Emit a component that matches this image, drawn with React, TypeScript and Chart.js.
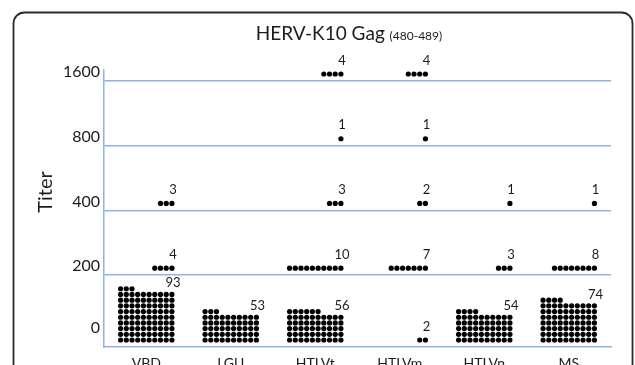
import React, { useEffect, useRef } from 'react';
import { Chart, registerables } from 'chart.js';

Chart.register(...registerables);

// ---- data ----
const categories = ['VBD', 'LGU', 'HTLVt', 'HTLVm', 'HTLVn', 'MS'];
const titerLabels = ['0', '200', '400', '800', '1600'];
const counts0 = [93, 53, 56, 2, 54, 74];
const counts200 = [4, 0, 10, 7, 3, 8];
const counts400 = [3, 0, 3, 2, 1, 1];
const counts800 = [0, 0, 1, 1, 0, 0];
const counts1600 = [0, 0, 4, 4, 0, 0];
const bands = [counts0, counts200, counts400, counts800, counts1600];

// ---- layout constants ----
const BLUE = '#8fb4e3';
const TEXT = '#1c1c1c';
const FONT = 'Lato, "Liberation Sans", sans-serif';
const Y_MIN = -0.11;
const Y_MAX = 4.17;
const TICK_VALUES = [0.05, 1, 2, 3, 4];
const COLS = 10;
const X_PITCH = 0.0675;
const Y_PITCH = 0.088;
const ROW_LIFT = 0.108;

function bandBase(b: number) {
  return (b === 0 ? Y_MIN : b) + ROW_LIFT;
}

function dotsFor(b: number, i: number, n: number) {
  const pts: { x: number; y: number }[] = [];
  const cx = i + 0.5;
  const base = bandBase(b);
  if (n <= COLS) {
    for (let k = 0; k < n; k++) {
      const col = COLS - n + k;
      pts.push({ x: cx + (col - 4.5) * X_PITCH, y: base });
    }
  } else {
    for (let k = 0; k < n; k++) {
      const row = Math.floor(k / COLS);
      const col = k % COLS;
      pts.push({ x: cx + (col - 4.5) * X_PITCH, y: base + row * Y_PITCH });
    }
  }
  return pts;
}

const decorPlugin = {
  id: 'decor',
  beforeDraw(chart: any) {
    const ctx = chart.ctx;
    ctx.save();
    ctx.strokeStyle = '#2a2a2a';
    ctx.lineWidth = 1.8;
    ctx.beginPath();
    (ctx as any).roundRect(13.5, 12.5, 619, 420, 11);
    ctx.stroke();
    ctx.restore();
  },
  afterDraw(chart: any) {
    const ctx = chart.ctx;
    const xs = chart.scales.x;
    const ys = chart.scales.y;
    ctx.save();
    ctx.fillStyle = TEXT;
    // title
    const main = 'HERV-K10 Gag ';
    const sub = '(480-489)';
    ctx.font = `19px ${FONT}`;
    const w1 = ctx.measureText(main).width;
    ctx.font = `12px ${FONT}`;
    const w2 = ctx.measureText(sub).width;
    const start = 349 - (w1 + w2) / 2;
    ctx.textBaseline = 'alphabetic';
    ctx.textAlign = 'left';
    ctx.font = `19px ${FONT}`;
    ctx.fillText(main, start, 40);
    ctx.font = `12px ${FONT}`;
    ctx.fillText(sub, start + w1, 40);
    // y title
    ctx.save();
    ctx.translate(46, 192);
    ctx.rotate(-Math.PI / 2);
    ctx.font = `20px ${FONT}`;
    ctx.textAlign = 'center';
    ctx.textBaseline = 'middle';
    ctx.fillText('Titer', 0, 0);
    ctx.restore();
    // count labels
    ctx.font = `13px ${FONT}`;
    ctx.textAlign = 'center';
    ctx.textBaseline = 'middle';
    bands.forEach((arr, b) => {
      arr.forEach((n, i) => {
        if (!n) return;
        const rows = Math.ceil(n / COLS);
        const ly = bandBase(b) + (rows === 1 ? 2.4 : rows) * Y_PITCH;
        const lx = i + 0.5 + 4.5 * X_PITCH;
        ctx.fillText(String(n), xs.getPixelForValue(lx) + 1, ys.getPixelForValue(ly));
      });
    });
    ctx.restore();
  },
};

export default function App() {
  const ref = useRef<HTMLCanvasElement>(null);
  useEffect(() => {
    if (!ref.current) return;
    const points: { x: number; y: number }[] = [];
    bands.forEach((arr, b) => arr.forEach((n, i) => points.push(...dotsFor(b, i, n))));
    const chart = new Chart(ref.current, {
      type: 'scatter',
      data: {
        datasets: [
          {
            data: points,
            pointRadius: 2.6,
            pointHoverRadius: 2.6,
            pointBackgroundColor: '#000',
            pointBorderWidth: 0,
          },
        ],
      },
      options: {
        responsive: false,
        animation: false,
        events: [],
        layout: { padding: { top: 70, right: 24, left: 0, bottom: 0 } },
        plugins: { legend: { display: false }, tooltip: { enabled: false }, title: { display: false } },
        scales: {
          x: {
            type: 'linear',
            min: 0,
            max: 6,
            afterBuildTicks: (s: any) => {
              s.ticks = categories.map((_, i) => ({ value: i + 0.5 }));
            },
            afterFit: (s: any) => {
              s.height = 18;
            },
            grid: { display: false, drawTicks: false },
            border: { display: true, color: BLUE, width: 1.5 },
            ticks: {
              callback: (_v: any, idx: number) => categories[idx],
              autoSkip: false,
              maxRotation: 0,
              padding: 8,
              color: TEXT,
              font: { family: FONT, size: 14 },
            },
          },
          y: {
            type: 'linear',
            min: Y_MIN,
            max: Y_MAX,
            afterBuildTicks: (s: any) => {
              s.ticks = TICK_VALUES.map((v) => ({ value: v }));
            },
            afterFit: (s: any) => {
              s.width = 104;
            },
            grid: {
              color: (c: any) => (c.index === 0 ? 'rgba(0,0,0,0)' : BLUE),
              lineWidth: 1.5,
              drawTicks: false,
            },
            border: { display: true, color: BLUE, width: 1.5 },
            ticks: {
              callback: (_v: any, idx: number) => titerLabels[idx],
              padding: 4,
              labelOffset: -9,
              color: TEXT,
              font: { family: FONT, size: 16 },
            },
          },
        },
      },
      plugins: [decorPlugin],
    });
    return () => chart.destroy();
  }, []);
  return (
    <canvas
      ref={ref}
      width={635}
      height={365}
      style={{ position: 'fixed', left: 0, top: 0, width: 635, height: 365, display: 'block' }}
    />
  );
}
